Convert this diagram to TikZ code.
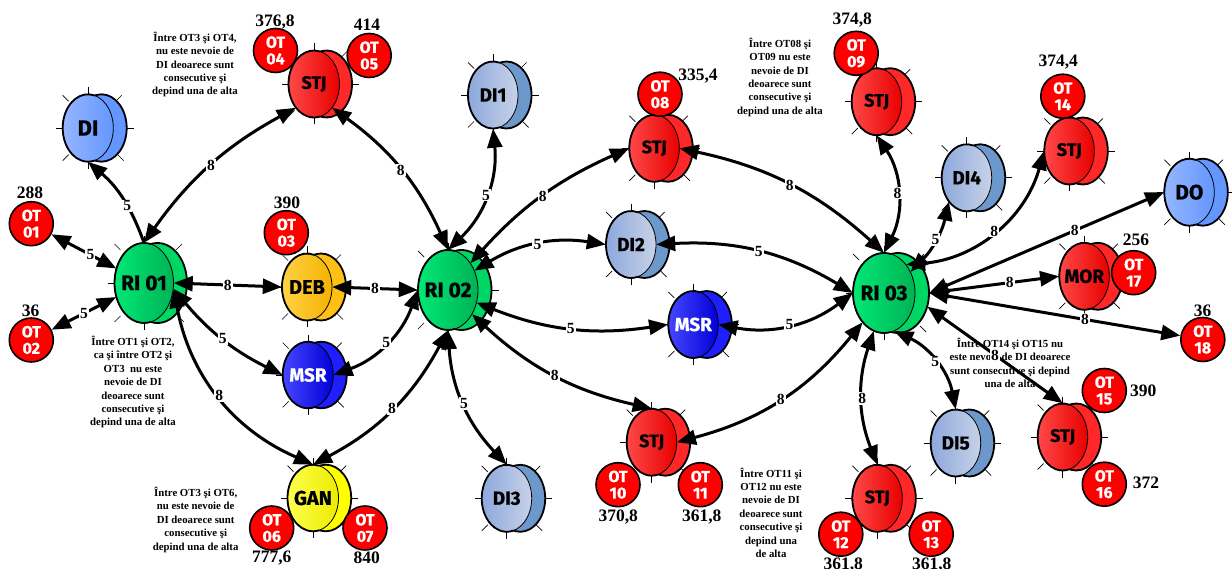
\documentclass[tikz,border=0pt]{standalone}
\usepackage{fontspec}
\setmainfont{Liberation Serif}
\newfontfamily\nodefont{Fira Sans}[BoldFeatures={FakeBold=0.6}]
\usetikzlibrary{arrows.meta,shapes.geometric}

% colour schemes: L = left of front face, R = right of front face, B = back face
\definecolor{riL}{RGB}{0,232,118}\definecolor{riR}{RGB}{0,178,84}\definecolor{riB}{RGB}{0,214,100}
\definecolor{rdL}{RGB}{255,72,72}\definecolor{rdR}{RGB}{232,0,0}\definecolor{rdB}{RGB}{255,40,40}
\definecolor{orL}{RGB}{255,210,70}\definecolor{orR}{RGB}{245,178,0}\definecolor{orB}{RGB}{255,192,20}
\definecolor{blL}{RGB}{70,70,255}\definecolor{blR}{RGB}{0,0,215}\definecolor{blB}{RGB}{30,30,255}
\definecolor{yeL}{RGB}{255,255,80}\definecolor{yeR}{RGB}{235,235,0}\definecolor{yeB}{RGB}{255,255,0}
\definecolor{lbL}{RGB}{150,182,255}\definecolor{lbR}{RGB}{100,150,255}\definecolor{lbB}{RGB}{100,150,255}
\definecolor{stL}{RGB}{140,168,220}\definecolor{stR}{RGB}{200,210,232}\definecolor{stB}{RGB}{108,152,204}

\tikzset{
  tickline/.style={line width=0.7pt},
  dlabel/.style={font=\nodefont\bfseries\fontsize{#1}{#1}\selectfont, inner sep=0pt},
  otc/.style={circle, draw, line width=1.6pt, fill=red, text=white, minimum size=44pt,
              inner sep=0pt, align=center, font=\nodefont\bfseries\fontsize{16}{16.5}\selectfont},
  num/.style={font=\bfseries\fontsize{17.5}{17.5}\selectfont, inner sep=0pt},
  note/.style={font=\bfseries\fontsize{10.8}{13.4}\selectfont, align=center, inner sep=0pt},
  elab/.style={fill=white, inner sep=1.2pt, font=\bfseries\fontsize{15.5}{15.5}\selectfont},
  link/.style={line width=3pt, >={Triangle[length=19pt,width=15pt]}},
}

% drum-shaped unit: #1 name, #2 x, #3 y (downwards), #4 x radius, #5 y radius,
% #6 depth offset of the back face, #7 colour scheme, #8 text, #9 text style
\newcommand\drum[9]{%
  \begin{scope}[shift={(#2,-#3)}]
    \pgfmathsetmacro\drumang{acos(#6/(2*#4))}
    \pgfmathsetmacro\drumR{#4+#6}
    \draw[tickline] (0,#5) -- (0,#5+7);
    \draw[tickline] (0,-#5) -- (0,-#5-7);
    \draw[tickline] (-#4,0) -- (-#4-7,0);
    \draw[tickline] (\drumR,0) -- (\drumR+7,0);
    \draw[tickline] (-#4,#5-1) -- (-#4+6,#5-7);
    \draw[tickline] (\drumR-5,#5-1) -- (\drumR-11,#5-7);
    \draw[tickline] (-#4,-#5+1) -- (-#4+6,-#5+7);
    \draw[tickline] (\drumR-3,-#5+1) -- (\drumR-9,-#5+7);
    \fill[#7B] (#6,0) ellipse [x radius=#4, y radius=#5];
    \draw[line width=1.8pt] (#6,0) ellipse [x radius=#4, y radius=#5];
    \shade[left color=#7L, right color=#7R] (0,0) ellipse [x radius=#4, y radius=#5];
    \draw[line width=0.8pt] (0,0) ellipse [x radius=#4, y radius=#5];
    \draw[line width=1.8pt] (\drumang:#4 and #5)
      arc [start angle=\drumang, end angle=360-\drumang, x radius=#4, y radius=#5];
  \end{scope}
  \node[ellipse, minimum width=2*#4, minimum height=2*#5, inner sep=0pt] (#1) at (#2,-#3) {};
  \node[#9] (#1-t) at (#2,-#3) {#8};
}

\begin{document}
\begin{tikzpicture}[x=1pt,y=1pt]
\useasboundingbox (0,0) rectangle (1232,-569);
\fill[white] (0,0) rectangle (1232,-569);

% ---- explanatory notes ----
\node[note] (n1) at (195,-64.5) {Între OT3 şi OT4,\\nu este nevoie de\\DI deoarece sunt\\consecutive şi\\depind una de alta};
\node[note] (n2) at (133,-382.2) {Între OT1 şi OT2,\\ca şi între OT2 şi\\OT3\ \ nu este\\nevoie de DI\\deoarece sunt\\consecutive şi\\depind una de alta};
\node[note] (n3) at (195.7,-519.7) {Între OT3 şi OT6,\\nu este nevoie de\\DI deoarece sunt\\consecutive şi\\depind una de alta};
\node[note] (n4) at (780,-77.2) {Între OT08 şi\\OT09 nu este\\nevoie de DI\\deoarece sunt\\consecutive şi\\depind una de alta};
\node[note] (n5) at (771,-512.7) {Între OT11 şi\\OT12 nu este\\nevoie de DI\\deoarece sunt\\consecutive şi\\depind una\\de alta};
\node[note] (n6) at (1010,-363) {Între OT14 şi OT15 nu\\este nevoie de DI deoarece\\sunt consecutive şi depind\\una de alta};

% ---- units ----
\drum{di}{88}{128}{25.3}{33.7}{13.4}{lb}{DI}{dlabel=22}
\drum{ri1}{144}{283}{29.5}{40}{13.5}{ri}{RI 01}{dlabel=21}
\drum{stj1}{314}{84}{25.5}{33.5}{12.5}{rd}{STJ}{dlabel=18}
\drum{deb}{307}{287}{25}{33.5}{14}{or}{DEB}{dlabel=20}
\drum{msr1}{308}{375}{25.3}{33.3}{13.4}{bl}{MSR}{dlabel=19, text=white}
\drum{gan}{313}{498}{25.5}{33.3}{12.7}{ye}{GAN}{dlabel=20}
\drum{ri2}{448}{290}{30}{40}{13.5}{ri}{RI 02}{dlabel=21}
\drum{di1}{493}{95}{25}{33.5}{13.5}{st}{DI1}{dlabel=19}
\drum{stj2}{654.3}{148.3}{25}{33.5}{13.5}{rd}{STJ}{dlabel=18}
\drum{di2}{631}{244.5}{25}{33.5}{13.5}{st}{DI2}{dlabel=19}
\drum{msr2}{693.3}{324.5}{25}{33.5}{13.5}{bl}{MSR}{dlabel=19, text=white}
\drum{stj3}{651.7}{442.2}{25}{33.5}{13.5}{rd}{STJ}{dlabel=18}
\drum{di3}{506.7}{498.3}{25}{33.5}{13.5}{st}{DI3}{dlabel=19}
\drum{ri3}{884}{293}{31}{40}{14}{ri}{RI 03}{dlabel=21}
\drum{stj4}{876.7}{101.7}{25}{33.5}{13.5}{rd}{STJ}{dlabel=18}
\drum{di4}{966.7}{177.8}{25}{33.5}{13.5}{st}{DI4}{dlabel=19}
\drum{stj5}{1069.3}{151}{25}{33.5}{13.5}{rd}{STJ}{dlabel=18}
\drum{do}{1189.3}{192.2}{25}{33.5}{13.5}{lb}{DO}{dlabel=21}
\drum{mor}{1084.3}{276.3}{25}{33.5}{13.5}{rd}{MOR}{dlabel=19}
\drum{stj6}{1062.7}{437}{25}{33.5}{13.5}{rd}{STJ}{dlabel=18}
\drum{di5}{955.7}{443}{25}{33.5}{13.5}{st}{DI5}{dlabel=19}
\drum{stj7}{877.3}{498.3}{25}{33.5}{13.5}{rd}{STJ}{dlabel=18}

% ---- operations ----
\node[otc] (ot01) at (31.3,-223.7) {OT\\01};
\node[otc] (ot02) at (31.3,-340) {OT\\02};
\node[otc] (ot03) at (286.3,-232.7) {OT\\03};
\node[otc] (ot04) at (275.5,-50.5) {OT\\04};
\node[otc] (ot05) at (369.2,-55.5) {OT\\05};
\node[otc] (ot06) at (271.7,-528) {OT\\06};
\node[otc] (ot07) at (365,-528) {OT\\07};
\node[otc] (ot08) at (660,-94.2) {OT\\08};
\node[otc] (ot09) at (856.2,-53.3) {OT\\09};
\node[otc] (ot10) at (618,-484.7) {OT\\10};
\node[otc] (ot11) at (700.3,-484.7) {OT\\11};
\node[otc] (ot12) at (840.8,-534.2) {OT\\12};
\node[otc] (ot13) at (931.2,-534.2) {OT\\13};
\node[otc] (ot14) at (1062.8,-96.2) {OT\\14};
\node[otc] (ot15) at (1104.3,-390.5) {OT\\15};
\node[otc] (ot16) at (1104.3,-484.2) {OT\\16};
\node[otc] (ot17) at (1133.7,-272.7) {OT\\17};
\node[otc] (ot18) at (1202.8,-339.5) {OT\\18};

% ---- times ----
\node[num] (v01) at (30,-193) {288};
\node[num] (v02) at (30.7,-310.7) {36};
\node[num] (v03) at (287,-203) {390};
\node[num] (v04) at (275,-22) {376,8};
\node[num] (v05) at (367,-25) {414};
\node[num] (v06) at (271.7,-558) {777,6};
\node[num] (v07) at (366.7,-558) {840};
\node[num] (v08) at (698,-76) {335,4};
\node[num] (v09) at (852.3,-20) {374,8};
\node[num] (v10) at (618.3,-516.7) {370,8};
\node[num] (v11) at (701.7,-516.7) {361,8};
\node[num] (v12) at (843.3,-565) {361,8};
\node[num] (v13) at (931.7,-565) {361,8};
\node[num] (v14) at (1058.3,-61.7) {374,4};
\node[num] (v15) at (1143.3,-391) {390};
\node[num] (v16) at (1146,-482.7) {372};
\node[num] (v17) at (1136,-240) {256};
\node[num] (v18) at (1202.7,-310.7) {36};

% ---- transport links ----
\begin{scope}[link]
\draw[->] (ri1.north) to[bend right=15] node[elab, pos=0.4]{5} (di.south);
\draw[<->] (ot01) -- node[elab, pos=0.6]{5} (ri1);
\draw[<->] (ot02) -- node[elab]{5} (ri1);
\draw[<->] (ri1.north) to[bend left=13] node[elab]{8} (stj1.south west);
\draw[<->] (stj1.south east) to[bend left=15] node[elab]{8} (ri2.north);
\draw[<->] (ri1.east) -- node[elab]{8} (deb.west);
\draw[<->] (deb.east) -- node[elab]{8} (ri2.west);
\draw[<->] ([yshift=-6pt]ri1.east) to[bend right=12] node[elab]{5} (msr1.west);
\draw[<->] (msr1.east) to[bend right=25] node[elab]{5} (ri2.west);
\draw[<->] ([yshift=-6pt]ri1.east) to[bend right=28] node[elab]{8} (gan.north);
\draw[<->] (gan.north) to[bend right=17] node[elab]{8} (ri2.south);
\draw[<->] (ri2.north) to[bend right=26] node[elab]{5} (di1.south);
\draw[<->] (ri2) to[bend left=12] node[elab]{8} (stj2.west);
\draw[<->] (ri2) to[bend left=20] node[elab]{5} (di2.west);
\draw[<->] (ri2) to[bend right=15] node[elab]{5} (msr2.west);
\draw[<->] (ri2) to[bend right=15] node[elab]{8} (stj3.north);
\draw[<->] (ri2.south) to[bend right=20] node[elab]{5} (di3.north);
\draw[<->] (stj2.east) to[bend left=15] node[elab]{8} (ri3.north);
\draw[<->] (di2.east) to[bend left=17] node[elab]{5} (ri3.west);
\draw[<->] (msr2.east) to[bend right=24] node[elab]{5} (ri3.west);
\draw[<->] (stj3.east) to[bend right=18] node[elab]{8} (ri3);
\draw[<->] (ri3.north) to[bend right=30] node[elab]{8} (stj4.south);
\draw[<->] (ri3) to[bend right=16] node[elab]{5} (di4.south west);
\draw[<->] (ri3.north east) to[bend right=35] node[elab]{8} (stj5.west);
\draw[<->] ([xshift=14pt]ri3.east) -- node[elab, pos=0.62]{8} (do.west);
\draw[<->] ([xshift=14pt]ri3.east) -- node[elab, pos=0.62]{8} (mor.west);
\draw[<->] ([xshift=14pt]ri3.east) -- node[elab, pos=0.62]{8} (ot18);
\draw[<->] ([xshift=14pt]ri3.-25) -- node[elab]{8} (stj6.north);
\draw[<->] (ri3.-75) to[bend left=27] node[elab]{5} (di5.north);
\draw[<->] (ri3.-105) to[bend right=20] node[elab]{8} (stj7.north);
\end{scope}
\end{tikzpicture}
\end{document}
